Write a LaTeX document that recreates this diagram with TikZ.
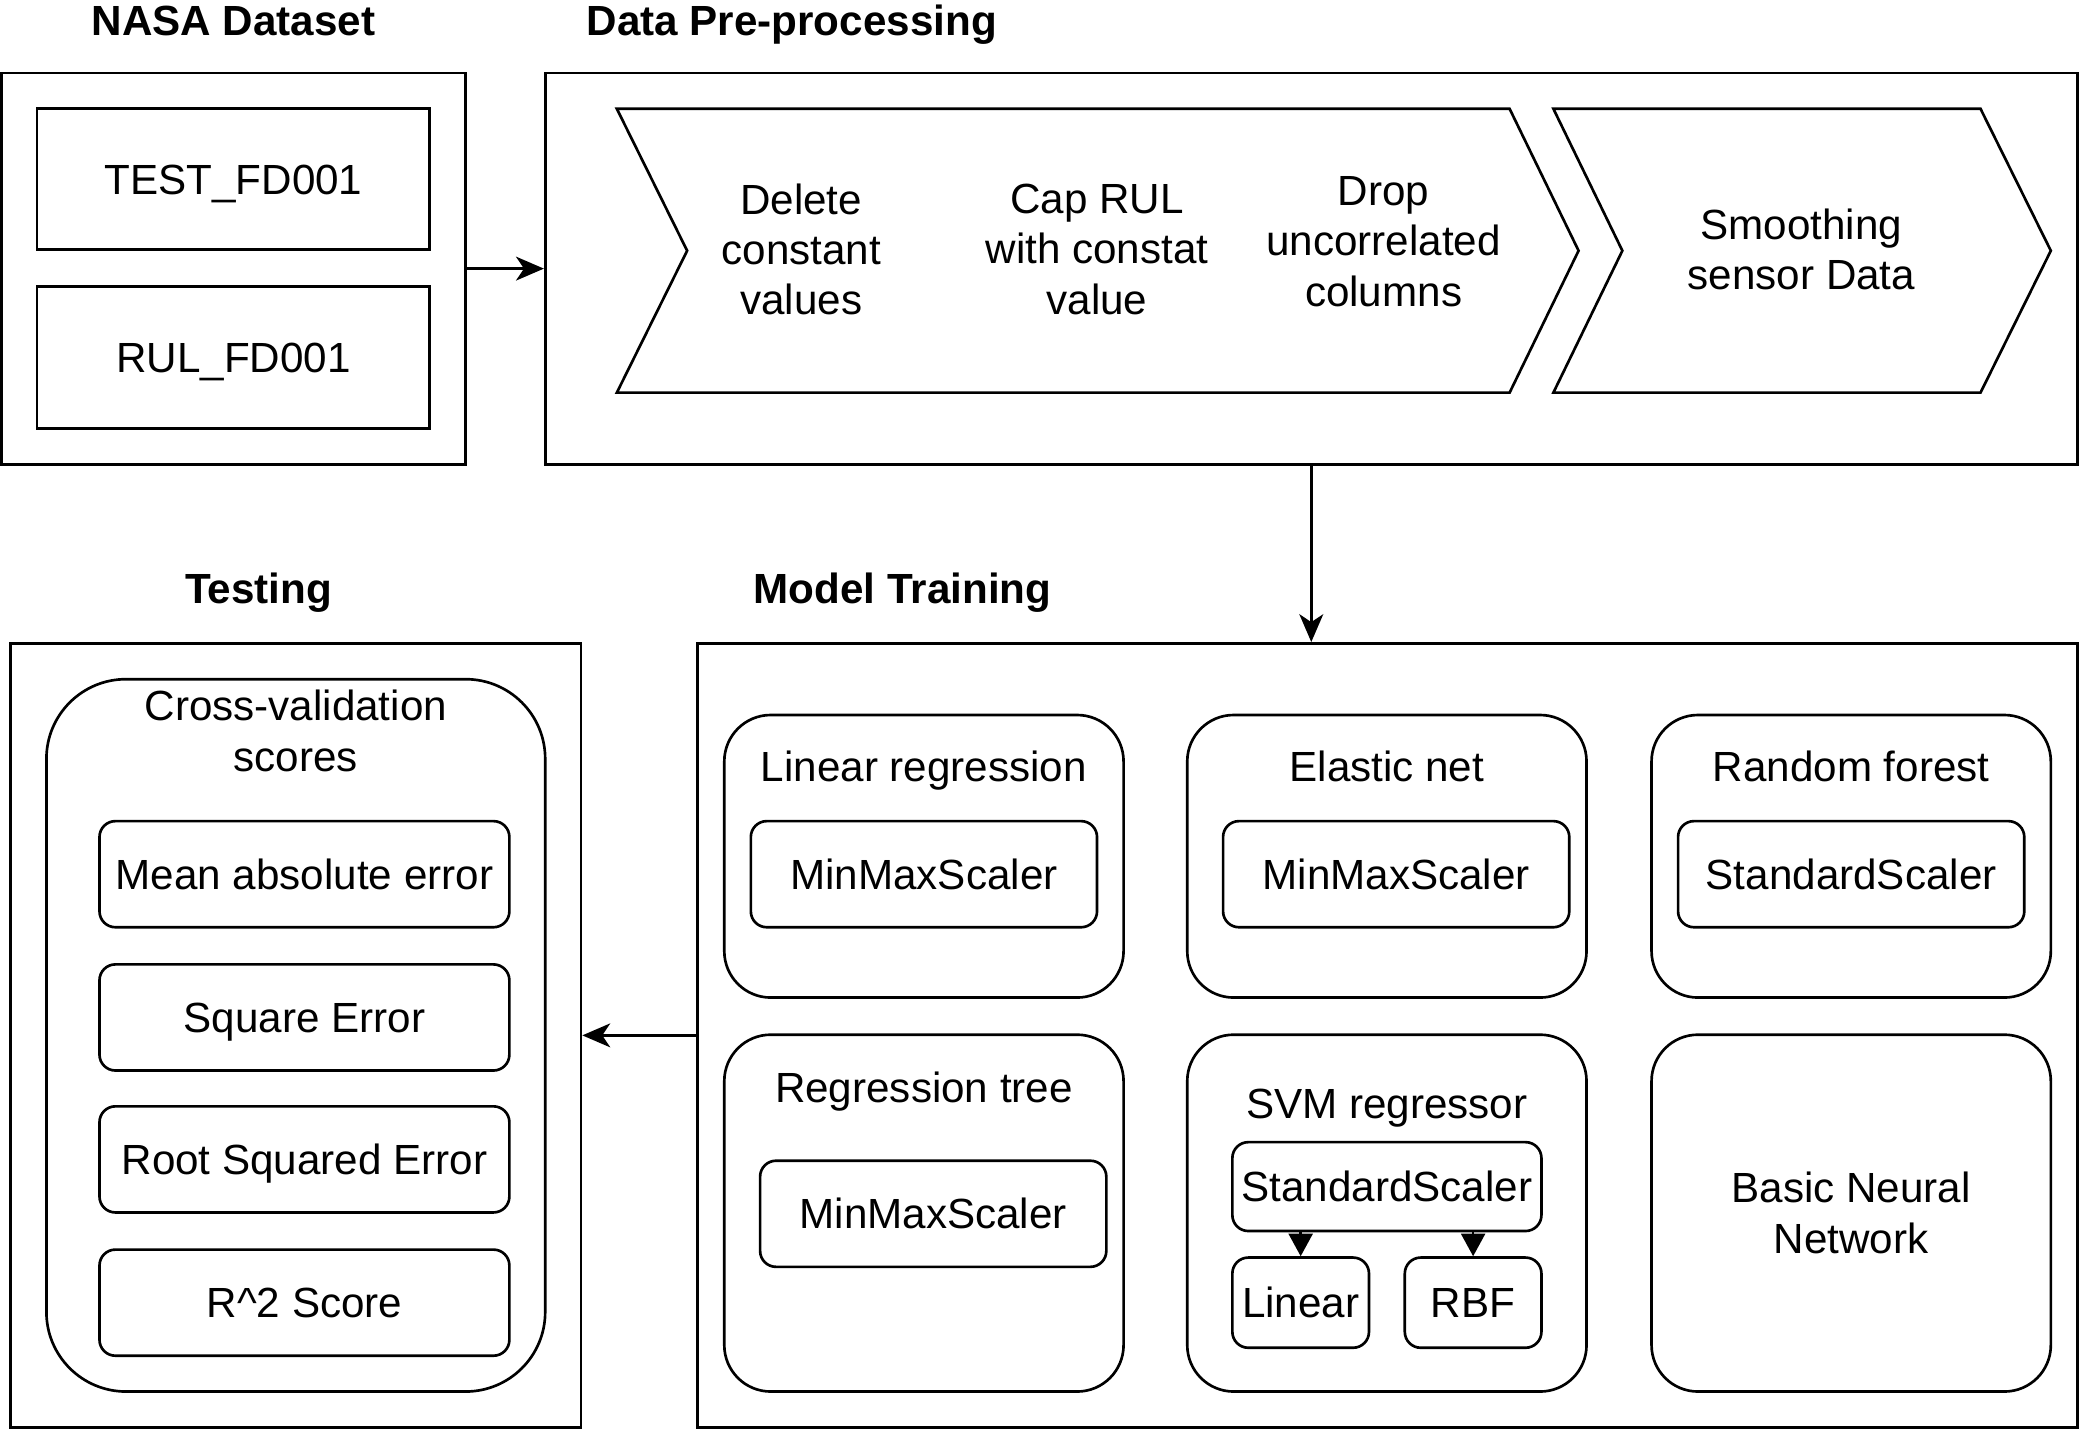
\documentclass[tikz,border=0pt]{standalone}
\usepackage{fontspec}
\setmainfont{Liberation Sans}
\usetikzlibrary{arrows.meta, positioning}

\tikzset{
	every node/.style={inner sep=0pt, align=center, font=\fontsize{31.8}{38}\selectfont},
	oneline/.style={text height=22.8pt, text depth=0pt},
	frame/.style={draw, line width=2pt},
	panel/.style={draw, line width=2pt, rounded corners=35pt, minimum width=301pt},
	item/.style={draw, line width=2pt, rounded corners=12pt, oneline},
	title/.style={font=\bfseries\fontsize{31.8}{38}\selectfont, anchor=base},
	arr/.style={line width=2pt, -{Stealth[length=21pt, width=18pt, inset=6pt]}},
	tri/.style={line width=2pt, -{Triangle[length=17pt, width=18pt]}}
}

\begin{document}
\begin{tikzpicture}[x=1pt, y=-1pt]
	\useasboundingbox (0,0) rectangle (1568,1078);

	% titles
	\node[title] (tNASA) at (176,27) {NASA Dataset};
	\node[title, anchor=base west] (tPre) at (442,27) {Data Pre-processing};
	\node[title] (tTest) at (195,455) {Testing};
	\node[title, anchor=base west] (tModel) at (568,455) {Model Training};

	% NASA dataset
	\node[frame, minimum width=350pt, minimum height=295pt] (NASA) at (176,202.5) {};
	\node[frame, oneline, minimum width=296pt, minimum height=106pt] (TestFD) at (176,135) {TEST\_FD001};
	\node[frame, oneline, minimum width=296pt, minimum height=107pt] (RulFD) at (176,269.5) {RUL\_FD001};

	% pre-processing
	\node[frame, minimum width=1155pt, minimum height=295pt] (Preproc) at (988.5,202.5) {};
	\draw[line width=2pt] (465,82) -- (1138,82) -- (1190,189) -- (1138,296) -- (465,296) -- (518,189) -- cycle;
	\draw[line width=2pt] (1171,82) -- (1493,82) -- (1546,189) -- (1493,296) -- (1171,296) -- (1223,189) -- cycle;
	\node (Delete) at (604,188) {Delete\\constant\\values};
	\node (CapRUL) at (827,188) {Cap RUL\\with constat\\value};
	\node (Drop) at (1043,182) {Drop\\uncorrelated\\columns};
	\node (Smooth) at (1358,188) {Smoothing\\sensor Data};

	% model training
	\node[frame, minimum width=1040pt, minimum height=591pt] (Model) at (1046,780.5) {};

	\node[panel, minimum height=213pt] (LinReg) at (696.5,645.5) {};
	\node[oneline] (tLinReg) at (696.5,578) {Linear regression};
	\node[item, minimum width=261pt, minimum height=80pt] (LinScale) at (696.5,659) {MinMaxScaler};

	\node[panel, minimum height=213pt] (Elastic) at (1045.5,645.5) {};
	\node[oneline] (tElastic) at (1045.5,578) {Elastic net};
	\node[item, minimum width=261pt, minimum height=80pt] (ElScale) at (1052.5,659) {MinMaxScaler};

	\node[panel, minimum height=213pt] (Forest) at (1395.5,645.5) {};
	\node[oneline] (tForest) at (1395.5,578) {Random forest};
	\node[item, minimum width=261pt, minimum height=80pt] (RfScale) at (1395.5,659) {StandardScaler};

	\node[panel, minimum height=269pt] (Tree) at (696.5,914.5) {};
	\node[oneline] (tTree) at (696.5,820) {Regression tree};
	\node[item, minimum width=261pt, minimum height=80pt] (TreeScale) at (703.5,915) {MinMaxScaler};

	\node[panel, minimum height=269pt] (SVM) at (1045.5,914.5) {};
	\node[oneline] (tSVM) at (1045.5,832) {SVM regressor};
	\node[item, minimum width=233pt, minimum height=67pt] (SvmScale) at (1045.5,894.5) {StandardScaler};
	\node[item, minimum width=103pt, minimum height=68pt] (Lin) at (980.5,982) {Linear};
	\node[item, minimum width=103pt, minimum height=68pt] (RBF) at (1110.5,982) {RBF};
	\draw[tri] (Lin.north |- SvmScale.south) -- (Lin.north);
	\draw[tri] (RBF.north |- SvmScale.south) -- (RBF.north);

	\node[panel, minimum height=269pt] (BNN) at (1395.5,914.5) {Basic Neural\\Network};

	% testing
	\node[frame, minimum width=430pt, minimum height=591pt] (Testing) at (223,780.5) {};
	\node[draw, line width=2pt, rounded corners=60pt, minimum width=376pt, minimum height=537pt] (CV) at (223,780.5) {};
	\node (tCV) at (223,551) {Cross-validation\\scores};
	\node[item, minimum width=309pt, minimum height=80pt] (MAE) at (229.5,659) {Mean absolute error};
	\node[item, minimum width=309pt, minimum height=80pt] (SqE) at (229.5,767) {Square Error};
	\node[item, minimum width=309pt, minimum height=80pt] (RSE) at (229.5,874) {Root Squared Error};
	\node[item, minimum width=309pt, minimum height=80pt] (R2) at (229.5,982) {R\^{}2 Score};

	% flow
	\draw[arr] (NASA) -- (Preproc);
	\draw[arr] (Preproc.south) -- (Preproc.south |- Model.north);
	\draw[arr] (Model.west) -- (Testing.east);
\end{tikzpicture}
\end{document}
